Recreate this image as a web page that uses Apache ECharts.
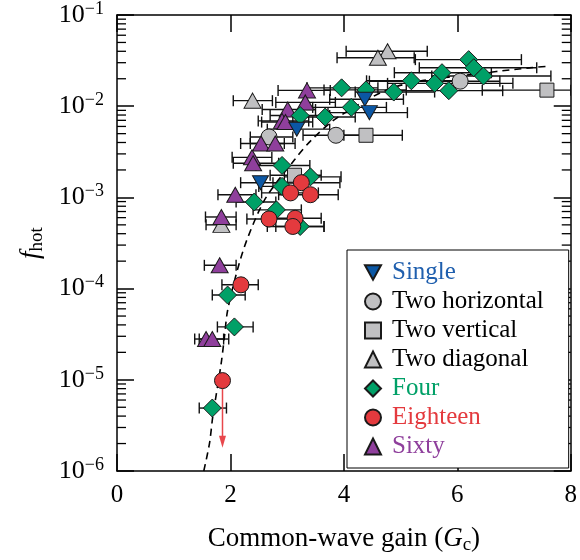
<!DOCTYPE html>
<html>
<head>
<meta charset="utf-8">
<script src="https://cdn.jsdelivr.net/npm/echarts@6/dist/echarts.min.js"></script>
<style>
  html, body { margin: 0; padding: 0; background: #fff; }
  #chart { width: 580px; height: 560px; }
</style>
</head>
<body>
<div id="chart"></div>
<script>
// rows: [gain, f_hot, error bar low, error bar high]
const single = [
  [4.37, 0.0119, 3.75, 5.05],
  [4.45, 0.0085, 3.72, 5.12],
  [3.17, 0.0056, 2.65, 3.75],
  [2.53, 0.00145, 2.18, 3.20]
]
const twoHorizontal = [
  [6.05, 0.0188, 4.45, 6.75],
  [3.86, 0.0048, 3.28, 4.40],
  [2.68, 0.0046, 2.35, 3.10]
]
const twoVertical = [
  [7.58, 0.0150, 6.44, 8.0],
  [4.39, 0.0048, 4.00, 5.03],
  [3.13, 0.00175, 2.70, 3.60]
]
const twoDiagonal = [
  [4.77, 0.040, 4.04, 5.47],
  [4.60, 0.034, 3.88, 5.24],
  [2.39, 0.0115, 2.05, 2.74],
  [1.84, 0.00050, 1.57, 2.10]
]
const four = [
  [6.20, 0.0324, 5.26, 7.13],
  [6.29, 0.0264, 5.33, 7.40],
  [6.46, 0.0214, 5.55, 7.65],
  [5.73, 0.0233, 4.89, 6.60],
  [5.19, 0.0190, 4.40, 5.95],
  [5.60, 0.0178, 4.77, 6.98],
  [5.85, 0.0148, 4.90, 6.80],
  [4.88, 0.0143, 4.20, 5.60],
  [3.96, 0.0159, 3.35, 4.60],
  [4.39, 0.0151, 3.65, 5.10],
  [4.13, 0.0097, 3.45, 4.75],
  [3.67, 0.0076, 3.10, 4.20],
  [3.23, 0.0079, 2.70, 3.75],
  [2.91, 0.00224, 2.45, 3.40],
  [3.41, 0.00168, 2.95, 3.95],
  [2.91, 0.00132, 2.50, 3.35],
  [2.42, 0.00089, 2.10, 2.80],
  [2.81, 0.00073, 2.40, 3.25],
  [3.23, 0.00048, 2.80, 3.65],
  [1.95, 0.000085, 1.68, 2.26],
  [2.07, 0.000038, 1.77, 2.40],
  [1.68, 0.0000049, 1.45, 1.93]
]
const eighteen = [
  [3.25, 0.00145, 2.75, 3.93],
  [3.06, 0.00112, 2.55, 3.55],
  [3.41, 0.00107, 2.85, 3.90],
  [2.68, 0.00058, 2.29, 3.10],
  [3.14, 0.00059, 2.70, 3.60],
  [3.10, 0.00048, 2.65, 3.65],
  [2.185, 0.00011, 1.85, 2.49],
  [1.86, 0.0000098, null, null]
]
const sixty = [
  [3.35, 0.0149, 2.84, 3.76],
  [3.32, 0.0110, 2.80, 3.85],
  [3.01, 0.0092, 2.56, 3.50],
  [2.91, 0.0069, 2.49, 3.38],
  [2.97, 0.0067, 2.55, 3.45],
  [2.54, 0.0039, 2.18, 2.95],
  [2.79, 0.0039, 2.35, 3.14],
  [2.38, 0.00275, 2.03, 2.73],
  [2.40, 0.00237, 2.05, 2.85],
  [2.085, 0.00107, 1.78, 2.45],
  [1.84, 0.00061, 1.56, 2.10],
  [1.81, 0.00018, 1.54, 2.10],
  [1.57, 0.000028, 1.37, 1.88],
  [1.68, 0.000028, 1.45, 1.97]
]
// upper limit arrow: [gain, from, to]
const eighteenLimit = [[1.86, 0.0000098, 0.0000018]]

// dashed fit curve
const fitX = [1.53, 1.63, 1.69, 1.836, 1.894, 1.95, 2.12, 2.30, 2.62, 3.14, 3.43, 3.90, 4.95, 6.69, 7.27, 7.62]
const fitY = [1e-6, 2.0e-6, 4.0e-6, 1.5e-5, 2.95e-5, 5.75e-5, 1.58e-4, 3.55e-4, 9.8e-4, 2.63e-3, 4.27e-3, 7.6e-3, 0.0166, 0.024, 0.0263, 0.0275]

const minorMult = [2, 3, 4, 5, 6, 7, 8, 9]
const decades = [1e-6, 1e-5, 1e-4, 1e-3, 1e-2]

const FONT = 'Liberation Serif'

const colors = {
  single: '#0b57a4',
  grey: '#c0c0c2',
  four: '#00a067',
  eighteen: '#e43a3e',
  sixty: '#8f3f9c'
}

const allRows = [single, twoHorizontal, twoVertical, twoDiagonal, four, eighteen, sixty]
const errorRows = []
allRows.forEach(rows => rows.forEach(r => { if (r[2] != null) errorRows.push(r) }))

const minorRows = []
decades.forEach(d => minorMult.forEach(m => minorRows.push([0, d * m])))

const renderErrorBar = (params, api) => {
  const y = api.value(1)
  const a = api.coord([api.value(2), y])
  const b = api.coord([api.value(3), y])
  const h = 5.5
  const style = { stroke: '#111', lineWidth: 1.4, fill: null }
  return {
    type: 'group',
    children: [
      { type: 'line', shape: { x1: a[0], y1: a[1], x2: b[0], y2: b[1] }, style },
      { type: 'line', shape: { x1: a[0], y1: a[1] - h, x2: a[0], y2: a[1] + h }, style },
      { type: 'line', shape: { x1: b[0], y1: b[1] - h, x2: b[0], y2: b[1] + h }, style }
    ]
  }
}

const renderMinorTick = (params, api) => {
  const v = api.value(1)
  const l = api.coord([0, v])
  const r = api.coord([8, v])
  const style = { stroke: '#000', lineWidth: 1.3 }
  return {
    type: 'group',
    children: [
      { type: 'line', shape: { x1: l[0], y1: l[1], x2: l[0] + 9, y2: l[1] }, style },
      { type: 'line', shape: { x1: r[0] - 9, y1: r[1], x2: r[0], y2: r[1] }, style }
    ]
  }
}

const renderArrow = (params, api) => {
  const x = api.value(0)
  const p0 = api.coord([x, api.value(1)])
  const p1 = api.coord([x, api.value(2)])
  const c = '#e8474c'
  return {
    type: 'group',
    children: [
      { type: 'line', shape: { x1: p0[0], y1: p0[1] + 7, x2: p1[0], y2: p1[1] - 8 }, style: { stroke: c, lineWidth: 1.5 } },
      { type: 'polygon', shape: { points: [[p1[0] - 3.5, p1[1] - 12], [p1[0] + 3.5, p1[1] - 12], [p1[0], p1[1]]] }, style: { fill: c } }
    ]
  }
}

const scatter = (name, rows, symbol, size, color) => ({
  name,
  type: 'scatter',
  data: rows.map(r => [r[0], r[1]]),
  symbol,
  symbolSize: size,
  itemStyle: { color, borderColor: '#1a1a1a', borderWidth: 1, opacity: 1 },
  emphasis: { disabled: true }
})

const legendText = color => ({ fontFamily: FONT, fontSize: 25, lineHeight: 25, color })

const axisLineStyle = { color: '#000', width: 1.5 }

const option = {
  animation: false,
  backgroundColor: '#fff',
  grid: { left: 117, right: 5, top: 15, bottom: 85, containLabel: false },
  xAxis: [
    {
      type: 'value', min: 0, max: 8, interval: 2, position: 'bottom',
      axisLine: { show: true, onZero: false, lineStyle: axisLineStyle },
      axisTick: { show: true, inside: true, length: 17, lineStyle: axisLineStyle },
      axisLabel: { fontFamily: FONT, fontSize: 25, color: '#000', margin: 12 },
      splitLine: { show: false },
      name: '{n|Common-wave gain (}{i|G}{sub|c}{n|)}',
      nameLocation: 'middle',
      nameGap: 52,
      nameTextStyle: {
        rich: {
          n: { fontFamily: FONT, fontSize: 27, color: '#000', lineHeight: 32 },
          i: { fontFamily: FONT, fontSize: 27, fontStyle: 'italic', color: '#000', lineHeight: 32 },
          sub: { fontFamily: FONT, fontSize: 19, color: '#000', lineHeight: 19, verticalAlign: 'bottom' }
        }
      }
    },
    {
      type: 'value', min: 0, max: 8, interval: 2, position: 'top',
      axisLine: { show: true, onZero: false, lineStyle: axisLineStyle },
      axisTick: { show: true, inside: true, length: 17, lineStyle: axisLineStyle },
      axisLabel: { show: false },
      splitLine: { show: false }
    }
  ],
  yAxis: [
    {
      type: 'log', logBase: 10, min: 1e-6, max: 1e-1, position: 'left',
      axisLine: { show: true, onZero: false, lineStyle: axisLineStyle },
      axisTick: { show: true, inside: true, length: 17, lineStyle: axisLineStyle },
      axisLabel: {
        margin: 13,
        formatter: v => '{b|10}{s|\u2212' + Math.abs(Math.round(Math.log10(v))) + '}',
        rich: {
          b: { fontFamily: FONT, fontSize: 26, color: '#000', lineHeight: 30 },
          s: { fontFamily: FONT, fontSize: 18, color: '#000', lineHeight: 18, verticalAlign: 'top' }
        }
      },
      splitLine: { show: false },
      name: '{i|f}{sub|hot}',
      nameLocation: 'middle',
      nameGap: 70,
      nameTextStyle: {
        rich: {
          i: { fontFamily: FONT, fontSize: 27, fontStyle: 'italic', color: '#000', lineHeight: 32 },
          sub: { fontFamily: FONT, fontSize: 19, color: '#000', lineHeight: 19, verticalAlign: 'bottom' }
        }
      }
    },
    {
      type: 'log', logBase: 10, min: 1e-6, max: 1e-1, position: 'right',
      axisLine: { show: true, onZero: false, lineStyle: axisLineStyle },
      axisTick: { show: true, inside: true, length: 17, lineStyle: axisLineStyle },
      axisLabel: { show: false },
      splitLine: { show: false }
    }
  ],
  legend: {
    orient: 'vertical',
    left: 347,
    top: 250,
    itemWidth: 16,
    itemHeight: 16,
    itemGap: 4,
    padding: [10, 25, 9, 17],
    backgroundColor: '#fff',
    borderColor: '#000',
    borderWidth: 1,
    borderRadius: 0,
    selectedMode: false,
    textStyle: Object.assign(legendText('#000'), { padding: [0, 0, 0, 6] }),
    data: [
      { name: 'Single', textStyle: legendText('#1f5fae') },
      { name: 'Two horizontal', textStyle: legendText('#000') },
      { name: 'Two vertical', textStyle: legendText('#000') },
      { name: 'Two diagonal', textStyle: legendText('#000') },
      { name: 'Four', textStyle: legendText('#00a067') },
      { name: 'Eighteen', textStyle: legendText('#e43a3e') },
      { name: 'Sixty', textStyle: legendText('#8f3f9c') }
    ]
  },
  series: [
    {
      type: 'custom', silent: true, clip: false,
      data: minorRows, renderItem: renderMinorTick, z: 1
    },
    {
      type: 'line',
      data: fitX.map((x, i) => [x, fitY[i]]),
      symbol: 'none', smooth: 0.3,
      lineStyle: { color: '#000', width: 1.6, type: [7, 5] },
      silent: true, z: 1
    },
    {
      type: 'custom', silent: true, clip: true,
      data: errorRows, renderItem: renderErrorBar, z: 1
    },
    scatter('Two diagonal', twoDiagonal, 'triangle', [17, 15], colors.grey),
    scatter('Two horizontal', twoHorizontal, 'circle', 16, colors.grey),
    scatter('Two vertical', twoVertical, 'rect', 14, colors.grey),
    scatter('Sixty', sixty, 'triangle', [17, 15], colors.sixty),
    scatter('Four', four, 'diamond', [18, 18], colors.four),
    {
      type: 'custom', silent: true,
      data: eighteenLimit, renderItem: renderArrow
    },
    scatter('Eighteen', eighteen, 'circle', 16, colors.eighteen),
    scatter('Single', single, 'path://M0,0 L10,0 L5,9 Z', [16, 14], colors.single)
  ]
}

const chart = echarts.init(document.getElementById('chart'))
chart.setOption(option)
</script>
</body>
</html>
